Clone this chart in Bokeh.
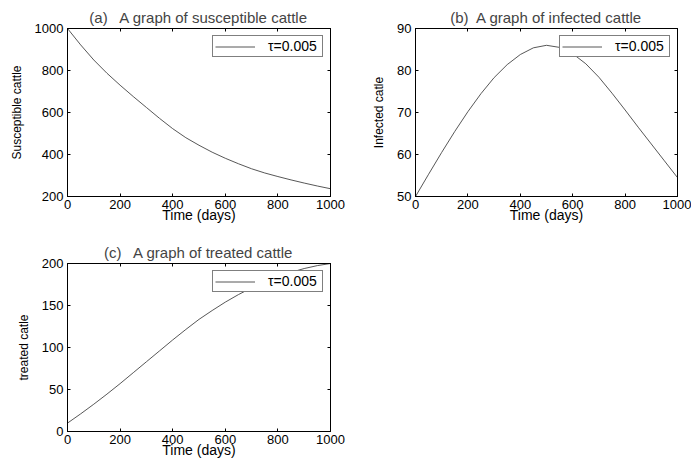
from bokeh.plotting import figure
from bokeh.models import (Range1d, FixedTicker, LinearAxis, Legend, LegendItem,
                          CustomLabelingPolicy)
from bokeh.layouts import column, row
from bokeh.embed import file_html
from bokeh.resources import INLINE

# ---- data ----
days = [0, 50, 100, 150, 200, 250, 300, 350, 400, 450, 500,
        550, 600, 650, 700, 750, 800, 850, 900, 950, 1000]
susceptible = [1000, 922, 850, 787, 730, 676, 624, 572, 523, 480, 444,
               411, 382, 356, 332, 312, 295, 279, 264, 250, 237]
infected = [50, 55.3, 60.5, 65.5, 70.2, 74.5, 78.3, 81.4, 83.8, 85.4, 86.0,
            85.5, 84.0, 81.6, 78.4, 74.6, 70.6, 66.5, 62.5, 58.5, 54.5]
treated = [10, 21, 32.5, 44.5, 57, 70, 83, 96, 109, 121.5, 133.5,
           144, 154, 163, 171, 178, 184.5, 189.5, 194, 197.5, 200]

x_ticks = [0, 200, 400, 600, 800, 1000]
s_ticks = [200, 400, 600, 800, 1000]
i_ticks = [50, 60, 70, 80, 90]
t_ticks = [0, 50, 100, 150, 200]

titles = ["(a)\u00a0\u00a0 A graph of susceptible cattle",
          "(b)\u00a0 A graph of infected cattle",
          "(c)\u00a0\u00a0 A graph of treated cattle"]
ylabels = ["Susceptible cattle", "Infected catle", "treated catle"]
xlabel = "Time (days)"
legend_label = "\u03c4=0.005"

FONT = "Liberation Sans"
LINE = "#444444"

NO_LABELS = CustomLabelingPolicy(code="""
if (typeof indices.clear === 'function') { indices.clear() }
else { for (const i of Array.from(indices)) { indices.unset(i) } }
return indices
""")


def style_axis(ax, show_labels=True):
    ax.major_tick_in = 3
    ax.major_tick_out = 0
    ax.minor_tick_in = 0
    ax.minor_tick_out = 0
    ax.major_tick_line_color = "black"
    ax.axis_line_color = "black"
    ax.major_label_text_font = FONT
    ax.major_label_text_color = "black"
    ax.axis_label_text_font = FONT
    ax.axis_label_text_font_style = "normal"
    ax.axis_label_text_color = "black"
    if not show_labels:
        ax.major_label_policy = NO_LABELS
        ax.major_label_text_font_size = "0px"
        ax.major_label_standoff = 0


def panel(title, ylabel, y, yr, yticks, fw, bl, br, bt, bb):
    p = figure(frame_width=fw, frame_height=168,
               output_backend="svg", toolbar_location=None,
               x_range=Range1d(0, 1000), y_range=Range1d(*yr),
               min_border_left=bl, min_border_right=br,
               min_border_top=bt, min_border_bottom=bb,
               x_axis_label=xlabel, y_axis_label=ylabel)
    p.title.text = title
    p.title.align = "center"
    p.title.vertical_align = "middle"
    p.title.text_font = FONT
    p.title.text_font_size = "15px"
    p.title.text_font_style = "normal"
    p.title.standoff = 4
    p.outline_line_color = "black"
    p.outline_line_width = 1
    p.outline_line_alpha = 1
    p.grid.visible = False
    p.background_fill_color = "white"
    p.border_fill_color = "white"

    p.xaxis.ticker = FixedTicker(ticks=x_ticks)
    p.yaxis.ticker = FixedTicker(ticks=yticks)
    for ax in p.xaxis:
        style_axis(ax)
        ax.major_label_text_font_size = "13px"
        ax.axis_label_text_font_size = "14px"
        ax.major_label_standoff = 3
        ax.axis_label_standoff = -5
    for ax in p.yaxis:
        style_axis(ax)
        ax.major_label_text_font_size = "13px"
        ax.axis_label_text_font_size = "12px"
        ax.major_label_standoff = 4
        ax.axis_label_standoff = 8

    top = LinearAxis(ticker=FixedTicker(ticks=x_ticks))
    style_axis(top, show_labels=False)
    p.add_layout(top, "above")
    right = LinearAxis(ticker=FixedTicker(ticks=yticks))
    style_axis(right, show_labels=False)
    p.add_layout(right, "right")

    r = p.line(days, y, line_color=LINE, line_width=0.9)
    leg = Legend(items=[LegendItem(label=legend_label, renderers=[r])],
                 location="top_right", margin=7, padding=2, spacing=0,
                 glyph_width=40, glyph_height=13, label_standoff=13,
                 label_height=13, label_width=52,
                 border_line_color="black", border_line_width=1,
                 background_fill_color="white", background_fill_alpha=1,
                 label_text_font=FONT, label_text_font_size="14px",
                 label_text_color="black")
    p.add_layout(leg, "center")
    return p


fa = panel(titles[0], ylabels[0], susceptible, (200, 1000), s_ticks, 263, 67, 20, 28, 41)
fb = panel(titles[1], ylabels[1], infected, (50, 90), i_ticks, 262, 65, 14, 28, 41)
fc = panel(titles[2], ylabels[2], treated, (0, 200), t_ticks, 263, 67, 20, 26, 30)

layout = column(row(fa, fb), fc)
open("out.html", "w").write(file_html(layout, INLINE))
